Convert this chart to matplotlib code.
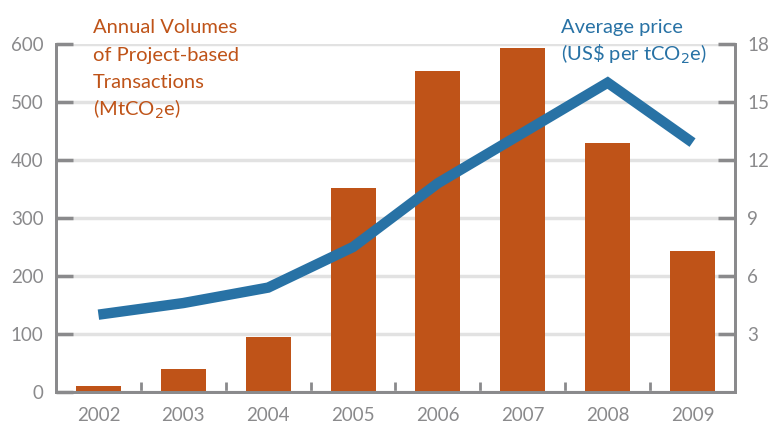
import numpy as np
import matplotlib
matplotlib.use("Agg")
import matplotlib.pyplot as plt

# ===============================
# Data
# ===============================

years = ["2002", "2003", "2004", "2005", "2006", "2007", "2008", "2009"]
volumes = [10, 40, 95, 352, 553, 593, 429, 243]        # MtCO2e
prices = [4.0, 4.6, 5.4, 7.5, 10.8, 13.4, 16.0, 12.9]  # US$ per tCO2e

left_ticks = [0, 100, 200, 300, 400, 500, 600]
right_ticks = [3, 6, 9, 12, 15, 18]

volume_label = ["Annual Volumes", "of Project-based", "Transactions", "(MtCO$_2$e)"]
price_label = ["Average price", "(US\\$ per tCO$_2$e)"]

# ===============================
# Style
# ===============================

plt.rcParams["font.family"] = ["Lato", "DejaVu Sans"]

bar_color = "#BF5318"
line_color = "#2872A5"
axis_grey = "#8A8A8C"
grid_grey = "#E2E2E2"

fig = plt.figure(figsize=(7.7, 4.23), dpi=100)
ax = fig.add_axes([0.0727, 0.0733, 0.8818, 0.8227])
ax2 = ax.twinx()

x = np.arange(len(years))

# gridlines behind bars
ax.set_yticks(left_ticks)
ax.yaxis.grid(True, color=grid_grey, lw=2.5)
ax.set_axisbelow(True)

ax.bar(x, volumes, width=0.53, color=bar_color, zorder=2)
ax.set_ylim(0, 600)
ax.set_xlim(-0.5, len(years) - 0.5)

ax2.plot(x, prices, color=line_color, lw=7.5, solid_capstyle="butt",
         solid_joinstyle="miter", zorder=3)
ax2.set_ylim(0, 18)

# ===============================
# Axes styling
# ===============================

for a in (ax, ax2):
    for s in a.spines.values():
        s.set_color(axis_grey)
        s.set_linewidth(2)
    a.spines["top"].set_visible(False)

ax.tick_params(axis="y", direction="in", length=12, width=2.5, color=axis_grey,
               labelcolor=axis_grey, labelsize=13.5, pad=9)
ax2.set_yticks(right_ticks)
ax2.tick_params(axis="y", direction="in", length=12, width=2.5, color=axis_grey,
                labelcolor=axis_grey, labelsize=13.5, pad=9)

ax.set_xticks(x)
ax.set_xticklabels(years)
ax.set_xticks(np.arange(len(years) - 1) + 0.5, minor=True)
ax.tick_params(axis="x", which="major", length=0, labelcolor=axis_grey,
               labelsize=13.5, pad=11)
ax.tick_params(axis="x", which="minor", direction="in", length=7, width=2,
               color=axis_grey)

ax.set_zorder(ax2.get_zorder() - 1)
ax.patch.set_visible(False)

# ===============================
# Annotations (one text per line, fixed baseline spacing)
# ===============================

for i, line in enumerate(volume_label):
    fig.text(93 / 770, 1 - (33 + 27.5 * i) / 423, line, color=bar_color,
             fontsize=14.5, va="baseline", ha="left")
for i, line in enumerate(price_label):
    fig.text(561 / 770, 1 - (33 + 28 * i) / 423, line, color=line_color,
             fontsize=14.5, va="baseline", ha="left")

plt.savefig("out.png", dpi=100)
